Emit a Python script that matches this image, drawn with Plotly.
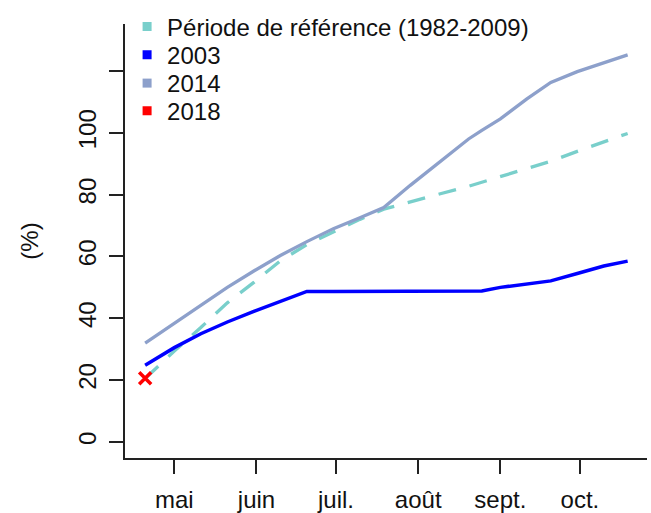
import plotly.graph_objects as go

# Day of year for each observation
x_doy = [124, 135, 145, 155, 165, 175, 185, 195, 205, 214, 224, 235, 246, 251, 258, 268, 277, 287, 297, 306]

ref_values = [20.5, 29.4, 37.0, 45.0, 51.6, 58.6, 63.8, 68.0, 72.0, 75.3, 77.7, 80.2, 82.7, 84.0, 85.9, 88.6, 90.8, 94.0, 97.2, 99.8]
y2003 = [24.8, 30.5, 35.0, 38.8, 42.2, 45.4, 48.7, 48.7, 48.7, 48.7, 48.7, 48.7, 48.7, 48.8, 50.0, 51.0, 52.1, 54.5, 56.9, 58.5]
y2014 = [32.0, 38.5, 44.3, 50.0, 55.3, 60.3, 64.8, 69.0, 72.5, 75.8, 83.0, 90.6, 98.0, 100.8, 104.5, 111.0, 116.3, 119.8, 122.7, 125.2]
x2018 = [124]
y2018 = [20.6]

month_ticks = [135, 166, 196, 227, 258, 288]
month_labels = ["mai", "juin", "juil.", "août", "sept.", "oct."]
y_ticks = [0, 20, 40, 60, 80, 100, 120]
y_labels = ["0", "20", "40", "60", "80", "100", ""]

names = ["Période de référence (1982-2009)", "2003", "2014", "2018"]
colors = ["#79CFCB", "#0000FF", "#8DA0CB", "#FF0000"]

FONT = "Arial, Liberation Sans, sans-serif"
FS = 24

fig = go.Figure()
fig.add_trace(go.Scatter(x=x_doy, y=ref_values, mode="lines", showlegend=False,
                         line=dict(color=colors[0], width=3.3, dash="18px,14px")))
fig.add_trace(go.Scatter(x=x_doy, y=y2003, mode="lines", showlegend=False,
                         line=dict(color=colors[1], width=3.5)))
fig.add_trace(go.Scatter(x=x_doy, y=y2014, mode="lines", showlegend=False,
                         line=dict(color=colors[2], width=3.3)))
fig.add_trace(go.Scatter(x=x2018, y=y2018, mode="markers", showlegend=False,
                         marker=dict(symbol="x-thin", size=12, line=dict(color=colors[3], width=3.5))))

# legend entries (filled squares), one legend per row for tight row spacing
legend_ids = ["legend", "legend2", "legend3", "legend4"]
for n, c, lid in zip(names, colors, legend_ids):
    fig.add_trace(go.Scatter(x=[None], y=[None], mode="markers", name=n, legend=lid,
                             marker=dict(symbol="square", size=9, color=c)))

row_y = [0.9935, 0.9285, 0.8629, 0.7990]
legend_cfg = {}
for lid, yy in zip(legend_ids, row_y):
    legend_cfg[lid] = dict(x=0.004, y=yy, xanchor="left", yanchor="middle",
                           bgcolor="rgba(0,0,0,0)", font=dict(size=FS),
                           itemwidth=30)

fig.update_layout(
    width=651, height=513,
    margin=dict(l=125, r=4, t=20, b=55),
    paper_bgcolor="white", plot_bgcolor="white",
    font=dict(family=FONT, size=FS, color="#111"),
    xaxis=dict(range=[116.4, 313.3], tickvals=month_ticks, ticktext=month_labels,
               automargin=False,
               showgrid=False, zeroline=False, showline=True, linecolor="#222", linewidth=1.5,
               ticks="outside", ticklen=14, tickwidth=1.5, tickcolor="#222",
               ticklabelstandoff=5, tickfont=dict(size=FS)),
    yaxis=dict(range=[-5.2, 135.2], tickvals=y_ticks, ticktext=y_labels,
               automargin=False,
               showgrid=False, zeroline=False, showline=True, linecolor="#222", linewidth=1.5,
               ticks="outside", ticklen=14, tickwidth=1.5, tickcolor="#222",
               tickangle=-90, ticklabelstandoff=4, tickfont=dict(size=FS),
               title=dict(text="(%)", standoff=28, font=dict(size=FS))),
    **legend_cfg,
)

fig.write_html("out.html", config={"displayModeBar": False},
               post_script="document.body.style.margin='0px';")
